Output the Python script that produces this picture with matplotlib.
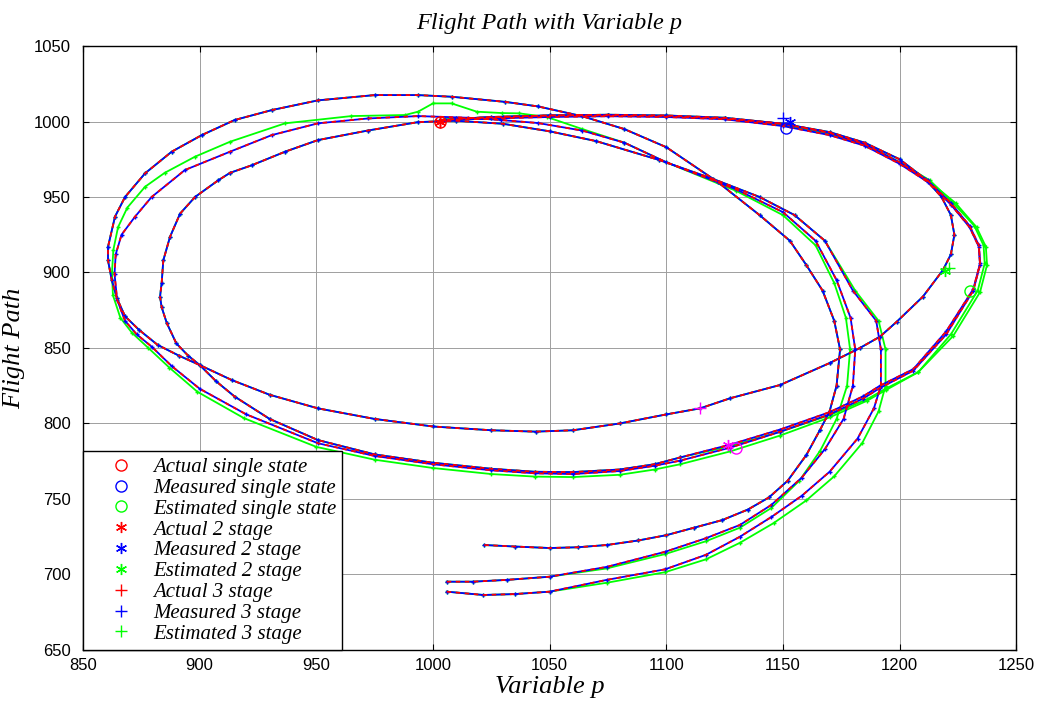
import matplotlib
matplotlib.use('Agg')
import matplotlib.pyplot as plt

# trajectory 1 (starts on the 719 line, outer top loop)
act1_x = [1022, 1035, 1050, 1062, 1074.5, 1088, 1100, 1112, 1124, 1135, 1144, 1152, 1160, 1166, 1170, 1173,
          1174.5, 1172, 1167, 1160, 1153, 1140, 1122, 1100, 1082, 1064, 1045, 1031, 1008, 993.6, 975, 950.7,
          931, 915, 900.9, 888, 876.6, 868, 863.7, 860.7, 860.7, 862.3, 864.5, 868, 874, 882, 891, 900,
          913.7, 930, 950.7, 975, 1000, 1025, 1044, 1060, 1080, 1100, 1114.5, 1127.4, 1148.8, 1170, 1183,
          1191.6, 1198.8, 1210, 1218.6, 1222, 1223.5, 1222, 1218, 1211, 1200, 1185, 1170, 1150, 1125, 1100,
          1075, 1050, 1025, 1003]
act1_y = [719.5, 718.5, 717.5, 718, 719.5, 722.5, 726, 731, 736, 743, 751, 762, 779, 796, 808, 825,
          849, 868, 888, 905, 921, 938, 960, 983, 995, 1003.5, 1010, 1013, 1016.4, 1017.5, 1017.5, 1014,
          1007.6, 1001, 991, 980, 965.7, 950, 937, 917, 908, 895, 883, 871, 862, 852, 845, 838.7,
          828.8, 819, 810, 803, 798, 795.5, 794.6, 795.5, 800, 806, 810, 816.7, 825.5, 840, 850,
          857.5, 867.4, 884, 901.6, 912, 925, 938, 950, 962, 975, 986, 993, 998.5, 1002, 1003.5,
          1004, 1004, 1003, 1001]

# trajectory 2 (starts on the 694 line, middle loop)
act2_x = [1005.9, 1017, 1031.6, 1050, 1074.5, 1099.5, 1117, 1131.6, 1145, 1158, 1168, 1176, 1180, 1181,
          1179, 1173, 1164, 1150, 1130, 1100, 1082, 1064, 1045, 1029, 1015, 993.6, 972, 950.7, 930.9, 913,
          893.7, 879.4, 872.3, 866.5, 864, 863.5, 864.6, 868, 873, 879.4, 888, 900, 920, 950.7, 975, 1000,
          1025, 1043.8, 1060, 1080, 1095, 1106, 1127.4, 1148.8, 1170, 1184.4, 1191.6, 1205.9, 1220, 1231.6,
          1234.5, 1234, 1230, 1222, 1212, 1200, 1185, 1170, 1150, 1125, 1100, 1075, 1050, 1025, 1005]
act2_y = [695.2, 695.2, 696.4, 698.5, 705, 715, 724, 732.8, 746, 764, 783, 803, 825, 849,
          870, 895, 921, 940, 955, 973, 986, 994, 999, 1001, 1002.5, 1003.6, 1002, 998.8, 991, 980,
          967.9, 950, 937, 925, 912, 899, 882, 868, 859, 850.9, 838, 823, 806, 786.9, 778.5, 773,
          769, 767, 766.5, 768.5, 772, 775.4, 784, 794.5, 806, 816.5, 823.5, 835, 859, 888,
          905, 917, 930, 945, 960, 972, 984, 991, 997, 1001.5, 1003, 1003.5, 1003, 1002, 1001]
est2_x = [1005.9, 1017, 1031.6, 1050, 1074.5, 1099.5, 1117, 1131.6, 1145, 1157, 1166, 1173, 1177.5, 1178.8,
          1177, 1172, 1164, 1150, 1130, 1100, 1082, 1064, 1048.8, 1037, 1029.5, 1018.8, 1008, 1000, 993.6,
          988, 965, 936.6, 913, 898, 885, 876.6, 869, 865, 863, 862.4, 862.8, 866, 871, 878, 887, 899,
          919, 950, 975, 1000, 1025, 1043.8, 1060, 1080, 1095, 1106, 1127.4, 1148.8, 1170, 1186, 1194,
          1208, 1223, 1234.5, 1237.5, 1237, 1233, 1224, 1213, 1201, 1186, 1170, 1150, 1125, 1100, 1075,
          1050, 1025, 1005]
est2_y = [695.2, 695.2, 696.4, 698.5, 704, 713.5, 722, 731, 744, 762, 782, 803, 825, 849,
          870, 893, 918, 938, 954, 973, 986, 995, 1003, 1005.4, 1005.6, 1006.5, 1012, 1012, 1006.5,
          1004.3, 1003.6, 998.8, 986.6, 976.7, 966, 956.8, 943, 930, 915, 900, 885, 870, 860, 850, 837, 821,
          803.5, 784.5, 776, 770.5, 766.5, 764.8, 764.5, 766, 769.5, 773, 781.5, 792, 804, 815, 822,
          834, 858, 887, 905, 917, 930, 946, 960, 972, 984, 991.5, 997.5, 1002, 1003.5, 1004,
          1003.5, 1002.5, 1001.5]

# trajectory 3 (starts on the 688 line, inner loop)
act3_x = [1005.9, 1021.6, 1035, 1050, 1074.5, 1099.5, 1117, 1131.6, 1145, 1158, 1170, 1182, 1189, 1192,
          1192, 1190, 1180, 1168, 1155, 1140, 1120, 1097, 1070, 1050, 1030, 1010, 993.6, 972, 950.7, 936.6,
          922.3, 913, 907.9, 898, 891.6, 887.3, 884.4, 883.7, 883, 883.7, 885.9, 890, 895, 900, 907, 915,
          930, 950.7, 975, 1000, 1025, 1043.8, 1060, 1080, 1095, 1106, 1127.4, 1148.8, 1170, 1184.4, 1191.6,
          1205.9, 1220, 1231.6, 1234.5, 1234, 1230, 1222, 1212, 1200, 1185, 1170, 1150, 1125, 1100, 1075,
          1050, 1030, 1010]
act3_y = [688.6, 686.4, 687, 688.6, 696.4, 703.4, 713, 725, 738, 752, 768, 790, 810, 825,
          849, 868, 888, 921, 938, 950, 962, 974.5, 987, 993.5, 998.5, 1000.5, 999.6, 994, 987.7, 980,
          971, 966, 961, 950, 939, 923.7, 908, 893, 884, 877, 866.5, 853, 845, 838.7, 828, 817.8,
          803, 789, 779.5, 774, 770, 768, 767.8, 769.5, 773, 777.5, 786, 796, 807.5, 818, 825,
          836, 861, 889, 906, 918, 931, 946, 961, 973, 985, 992.5, 998.5, 1002.5, 1004, 1004.5,
          1004, 1003, 1002]
est3_x = [1005.9, 1021.6, 1035, 1050, 1074.5, 1099.5, 1117, 1131.6, 1146, 1160, 1172, 1184, 1191, 1194,
          1194, 1191, 1181, 1168, 1155, 1140, 1120, 1097, 1070, 1050, 1030, 1010, 993.6, 972, 950.7, 936.6,
          922.3, 913, 907.9, 898, 891.6, 887.3, 884.4, 883.7, 883, 883.7, 885.9, 890, 895, 900, 907, 915,
          930, 950.7, 975, 1000, 1025, 1043.8, 1060, 1080, 1095, 1106, 1127.4, 1148.8, 1170, 1186, 1194,
          1208, 1222, 1233.5, 1236.5, 1236, 1232, 1223, 1213, 1200, 1185, 1170, 1150, 1125, 1100, 1075,
          1050, 1030, 1010]
est3_y = [688.6, 686.4, 687, 688.6, 694.5, 701.5, 710, 721, 734, 749, 765, 787, 808, 825,
          849, 868, 888, 921, 938, 950, 962, 974.5, 987, 993.5, 998.5, 1000.5, 999.6, 994, 987.7, 980,
          971, 966, 961, 950, 939, 923.7, 908, 893, 884, 877, 866.5, 853, 845, 838.7, 828, 817.8,
          803, 789, 779.5, 774, 770, 768, 767.8, 769.5, 773, 777.5, 785, 794.5, 805.5, 816, 823,
          834, 859, 888, 906, 918, 931, 946, 961, 973, 985, 992.5, 998.5, 1002.5, 1004, 1004.5,
          1004, 1003, 1002]

# single points shown in the legend
legend_labels = ['Actual single state', 'Measured single state', 'Estimated single state',
                 'Actual 2 stage', 'Measured 2 stage', 'Estimated 2 stage',
                 'Actual 3 stage', 'Measured 3 stage', 'Estimated 3 stage']
point_x = [1003, 1151.5, 1230, 1003, 1153, 1219.5, 1003, 1150, 1221]
point_y = [999.5, 995.7, 888, 999.5, 1000, 901, 1000, 1002, 903]
point_colors = ['r', 'b', '#00ff00'] * 3
asterisk = (6, 2, 0)
point_markers = ['o', 'o', 'o', asterisk, asterisk, asterisk, '+', '+', '+']

# magenta markers on the lower loops
mag_x = [1114.5, 1126.5, 1130]
mag_y = [810, 785.8, 783.6]
mag_markers = ['+', asterisk, 'o']

plt.rcParams['font.family'] = ['Liberation Serif', 'DejaVu Serif']
fig = plt.figure(figsize=(10.38, 7.08), dpi=100)
ax = fig.add_axes([0.080, 0.082, 0.899, 0.853])

green = '#00ff00'
actual = [(act1_x, act1_y), (act2_x, act2_y), (act3_x, act3_y)]
estimated = [(act1_x, act1_y), (est2_x, est2_y), (est3_x, est3_y)]

for ex, ey in estimated:
    ax.plot(ex, ey, color=green, lw=1.3, marker='+', markersize=3, zorder=2)
for mx, my in actual:
    # measured track sits on top of the actual one
    ax.plot(mx, my, color='b', lw=1.3, marker='+', markersize=3, zorder=3)
for axx, ayy in actual:
    ax.plot(axx, ayy, color='r', lw=1.3, linestyle=(0, (2.5, 2.5)), zorder=4)

for i in range(len(point_x)):
    ax.plot(point_x[i], point_y[i], linestyle='none', marker=point_markers[i],
            color=point_colors[i], markerfacecolor='none', markersize=8,
            markeredgewidth=1.0, label=legend_labels[i], zorder=5)
for i in range(len(mag_x)):
    ax.plot(mag_x[i], mag_y[i], linestyle='none', marker=mag_markers[i], color='#ff00ff',
            markerfacecolor='none', markersize=8, markeredgewidth=1.0, zorder=5)

ax.set_xlim(850, 1250)
ax.set_ylim(650, 1050)
ax.set_xticks(range(850, 1251, 50))
ax.set_yticks(range(650, 1051, 50))
ax.grid(True, color='0.62', lw=0.7, linestyle='-')
ax.set_axisbelow(True)
ax.tick_params(direction='in', top=True, right=True, length=4, width=0.8, labelsize=12)
ax.tick_params(axis='y', pad=9)
ax.tick_params(axis='x', pad=6)
for lab in ax.get_xticklabels() + ax.get_yticklabels():
    lab.set_family('Liberation Sans')
for sp in ax.spines.values():
    sp.set_linewidth(1.0)

ax.set_title('Flight Path with Variable p', fontsize=17.5, style='italic', pad=12)
ax.set_xlabel('Variable p', fontsize=19, style='italic', labelpad=2)
ax.set_ylabel('Flight Path', fontsize=19, style='italic', labelpad=6)

leg = ax.legend(loc='lower left', borderaxespad=0, fancybox=False, framealpha=1,
                edgecolor='k', prop={'family': 'Liberation Serif', 'style': 'italic', 'size': 15},
                handlelength=3.0, handletextpad=0.05, labelspacing=0.06, borderpad=0.3)
leg.get_frame().set_linewidth(1.0)

fig.savefig('out.png', dpi=100)
